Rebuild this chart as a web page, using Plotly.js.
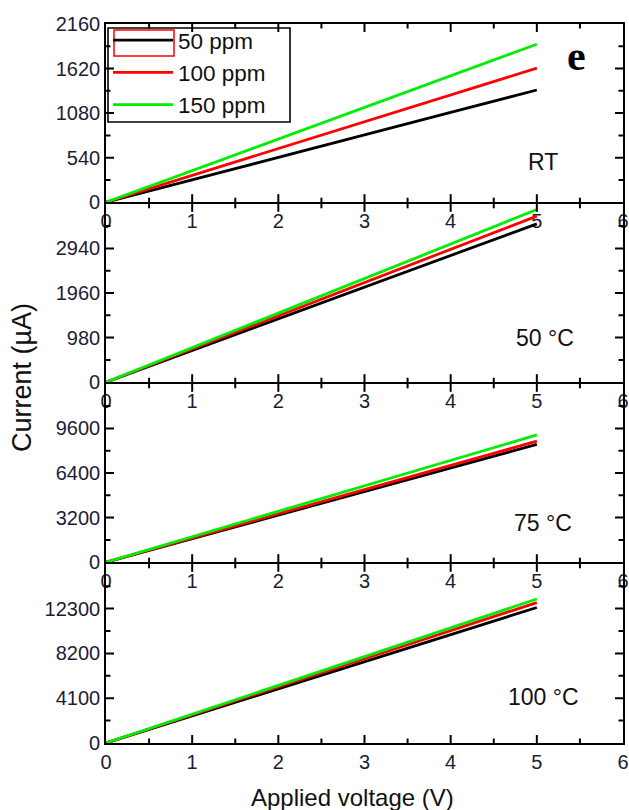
<!DOCTYPE html>
<html><head><meta charset="utf-8">
<script src="https://cdn.plot.ly/plotly-3.0.1.min.js"></script>
<style>html,body{margin:0;padding:0;background:#fff}</style>
</head><body><div id="chart" style="width:629px;height:810px"></div>
<script>
// Applied voltage (V)
const voltage = [0, 1, 2, 3, 4, 5];

// Current (µA) — RT
const rt_50ppm  = [0, 270, 545, 815, 1090, 1360];
const rt_100ppm = [0, 325, 650, 975, 1300, 1625];
const rt_150ppm = [0, 383, 766, 1150, 1535, 1915];
// 50 °C
const t50_50ppm  = [0, 695, 1390, 2090, 2785, 3480];
const t50_100ppm = [0, 730, 1460, 2190, 2920, 3650];
const t50_150ppm = [0, 760, 1520, 2280, 3040, 3795];
// 75 °C
const t75_50ppm  = [0, 1690, 3380, 5070, 6760, 8450];
const t75_100ppm = [0, 1735, 3470, 5210, 6945, 8680];
const t75_150ppm = [0, 1825, 3650, 5480, 7300, 9130];
// 100 °C
const t100_50ppm  = [0, 2480, 4960, 7440, 9920, 12400];
const t100_100ppm = [0, 2570, 5140, 7710, 10280, 12850];
const t100_150ppm = [0, 2635, 5270, 7910, 10545, 13180];

const seriesNames = ['50 ppm', '100 ppm', '150 ppm'];
const seriesColors = ['#000000', '#ff0000', '#00ee00'];
const panelLabels = ['RT', '50 °C', '75 °C', '100 °C'];
const panelTickVals = [
  [0, 540, 1080, 1620, 2160],
  [0, 980, 1960, 2940],
  [0, 3200, 6400, 9600],
  [0, 4100, 8200, 12300]
];
const panelRanges = [[0, 2160], [0, 3920], [0, 12800], [0, 16400]];
const xTickVals = [0, 1, 2, 3, 4, 5, 6];

const panels = [
  [rt_50ppm, rt_100ppm, rt_150ppm],
  [t50_50ppm, t50_100ppm, t50_150ppm],
  [t75_50ppm, t75_100ppm, t75_150ppm],
  [t100_50ppm, t100_100ppm, t100_150ppm]
];

const W = 629, H = 810;
const px = v => v / W;
const py = v => 1 - v / H;
const panelPix = [[24, 202.2], [203.8, 382.2], [383.8, 562.2], [563.8, 743]];
const xPix = [106, 623];
const xDom = [px(xPix[0]), px(xPix[1])];
const FONT = 'Liberation Sans, Arial, sans-serif';
const tickFont = {family: FONT, size: 20, color: '#1c1c38'};
const TICK = {color: '#000', width: 2};
const MAJ = 8, MIN = 4.5;

const traces = [];
panels.forEach((p, i) => {
  const sfx = i === 0 ? '' : String(i + 1);
  p.forEach((vals, j) => {
    traces.push({
      x: voltage, y: vals, type: 'scatter', mode: 'lines',
      name: seriesNames[j], legendgroup: seriesNames[j],
      showlegend: i === 0,
      line: {color: seriesColors[j], width: 2.8},
      xaxis: 'x' + sfx, yaxis: 'y' + sfx
    });
  });
});

const layout = {
  width: W, height: H,
  margin: {l: 0, r: 0, t: 0, b: 0},
  paper_bgcolor: '#fff', plot_bgcolor: '#fff',
  showlegend: true,
  legend: {
    x: px(108), y: py(19), xanchor: 'left', yanchor: 'top',
    borderwidth: 0, bgcolor: 'rgba(0,0,0,0)',
    font: {family: FONT, size: 22.5, color: '#111'},
    tracegroupgap: 0, itemwidth: 60
  },
  annotations: [],
  shapes: []
};

// inside tick marks on all four sides of a panel: position along the axis
// through the panel's own axis, length in paper units
function addTicks(sfx, pix, xr, yr, xStep, yStep) {
  const xa = 'x' + sfx, ya = 'y' + sfx;
  const top = pix[0], bot = pix[1];
  for (let k = 1; k * xStep / 2 < xr[1] - xr[0] - 1e-9; k++) {
    const v = xr[0] + k * xStep / 2;
    const len = (k % 2 === 0) ? MAJ : MIN;
    layout.shapes.push({type: 'line', xref: xa, yref: 'paper', x0: v, x1: v,
      y0: py(bot), y1: py(bot - len), line: TICK, layer: 'above'});
    layout.shapes.push({type: 'line', xref: xa, yref: 'paper', x0: v, x1: v,
      y0: py(top), y1: py(top + len), line: TICK, layer: 'above'});
  }
  for (let k = 1; k * yStep / 2 < yr[1] - yr[0] - 1e-9 * yStep; k++) {
    const v = yr[0] + k * yStep / 2;
    const len = (k % 2 === 0) ? MAJ : MIN;
    layout.shapes.push({type: 'line', xref: 'paper', yref: ya, y0: v, y1: v,
      x0: px(xPix[0]), x1: px(xPix[0] + len), line: TICK, layer: 'above'});
    layout.shapes.push({type: 'line', xref: 'paper', yref: ya, y0: v, y1: v,
      x0: px(xPix[1]), x1: px(xPix[1] - len), line: TICK, layer: 'above'});
  }
}

panels.forEach((p, i) => {
  const sfx = i === 0 ? '' : String(i + 1);
  const yd = [py(panelPix[i][1]), py(panelPix[i][0])];
  const tv = panelTickVals[i];
  layout['xaxis' + sfx] = {
    domain: xDom, anchor: 'y' + sfx, range: [0, 6],
    tickmode: 'array', tickvals: xTickVals, ticktext: xTickVals.map(String),
    ticks: '', showline: true, linecolor: '#000', linewidth: 1.6, mirror: true,
    showgrid: false, zeroline: false, tickfont: tickFont
  };
  layout['yaxis' + sfx] = {
    domain: yd, anchor: 'x' + sfx, range: panelRanges[i],
    tickmode: 'array', tickvals: tv, ticktext: tv.map(String),
    ticks: '', showline: true, linecolor: '#000', linewidth: 1.6, mirror: true,
    showgrid: false, zeroline: false, tickfont: tickFont
  };
  addTicks(sfx, panelPix[i], [0, 6], panelRanges[i], xTickVals[1] - xTickVals[0], tv[1] - tv[0]);
});

const labelPos = [[543, 162], [545, 338], [543, 523], [543, 697]];
panelLabels.forEach((t, i) => {
  layout.annotations.push({
    text: t, xref: 'paper', yref: 'paper', x: px(labelPos[i][0]), y: py(labelPos[i][1]),
    xanchor: 'center', yanchor: 'middle', showarrow: false,
    font: {family: FONT, size: 23, color: '#111'}
  });
});
layout.annotations.push({
  text: 'e', xref: 'paper', yref: 'paper', x: px(576), y: py(56),
  xanchor: 'center', yanchor: 'middle', showarrow: false,
  font: {family: 'Liberation Serif, Times New Roman, serif', size: 42, color: '#000', weight: 'bold'}
});
layout.annotations.push({
  text: 'Current (µA)', xref: 'paper', yref: 'paper', x: px(22), y: py(378),
  xanchor: 'center', yanchor: 'middle', textangle: -90, showarrow: false,
  font: {family: FONT, size: 27, color: '#111'}
});
layout.annotations.push({
  text: 'Applied voltage (V)', xref: 'paper', yref: 'paper', x: px(352), y: py(797),
  xanchor: 'center', yanchor: 'middle', showarrow: false,
  font: {family: FONT, size: 24, color: '#111'}
});
// legend frame and the red selection box around the first legend sample
layout.shapes.push({
  type: 'rect', xref: 'paper', yref: 'paper',
  x0: px(108), x1: px(290), y0: py(122), y1: py(28),
  line: {color: '#000', width: 1.6}, fillcolor: 'rgba(0,0,0,0)'
});
layout.shapes.push({
  type: 'rect', xref: 'paper', yref: 'paper',
  x0: px(114), x1: px(174), y0: py(56), y1: py(30),
  line: {color: '#ff0000', width: 1.5}, fillcolor: 'rgba(0,0,0,0)'
});

Plotly.newPlot('chart', traces, layout, {displayModeBar: false});
</script>
</body></html>
